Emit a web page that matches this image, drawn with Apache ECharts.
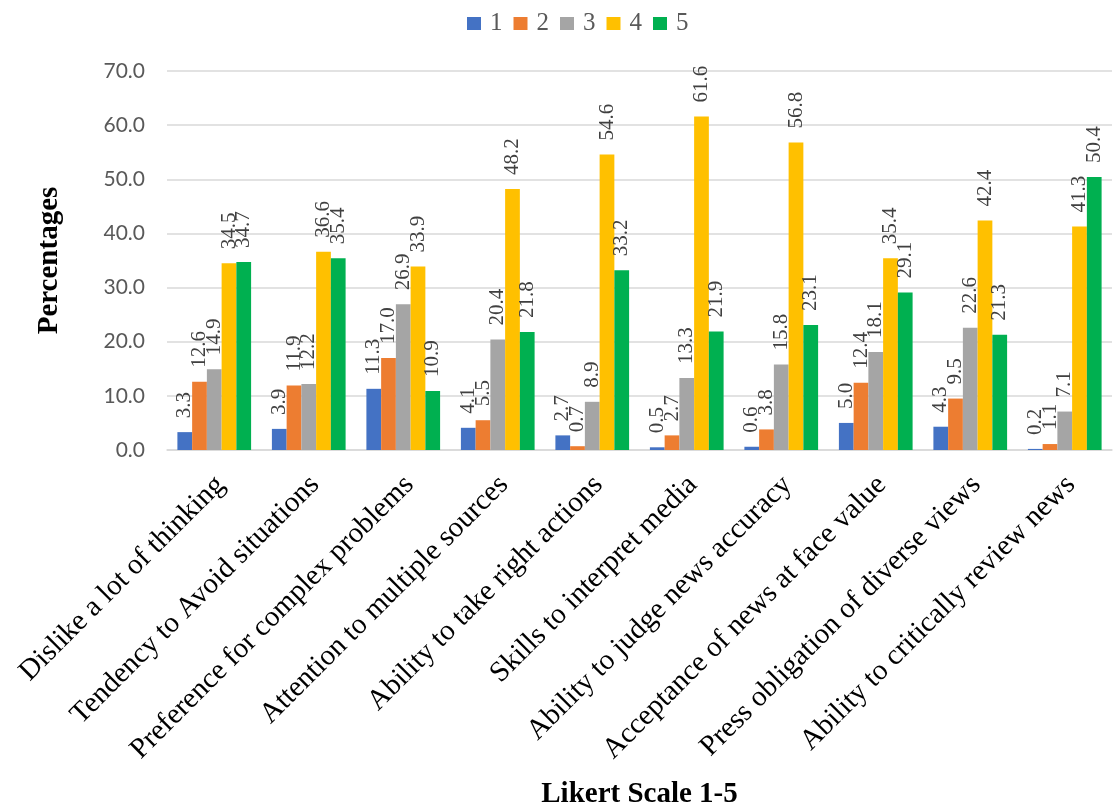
<!DOCTYPE html>
<html>
<head>
<meta charset="utf-8">
<script src="https://cdn.jsdelivr.net/npm/echarts@6/dist/echarts.min.js"></script>
<style>
html,body{margin:0;padding:0;background:#fff;}
#chart{width:1114px;height:810px;}
</style>
</head>
<body>
<div id="chart"></div>
<script>
var categories = [
  "Dislike a lot of thinking",
  "Tendency to Avoid situations",
  "Preference for complex problems",
  "Attention to multiple sources",
  "Ability to take right actions",
  "Skills to interpret media",
  "Ability to judge news accuracy",
  "Acceptance of news at face value",
  "Press obligation of diverse views",
  "Ability to critically review news"
];
var seriesNames = ["1", "2", "3", "4", "5"];
var s1 = [3.3, 3.9, 11.3, 4.1, 2.7, 0.5, 0.6, 5.0, 4.3, 0.2];
var s2 = [12.6, 11.9, 17.0, 5.5, 0.7, 2.7, 3.8, 12.4, 9.5, 1.1];
var s3 = [14.9, 12.2, 26.9, 20.4, 8.9, 13.3, 15.8, 18.1, 22.6, 7.1];
var s4 = [34.5, 36.6, 33.9, 48.2, 54.6, 61.6, 56.8, 35.4, 42.4, 41.3];
var s5 = [34.7, 35.4, 10.9, 21.8, 33.2, 21.9, 23.1, 29.1, 21.3, 50.4];
var colors = ["#4472C4", "#ED7D31", "#A5A5A5", "#FFC000", "#00B050"];
var values = [s1, s2, s3, s4, s5];

var serif = "Liberation Serif";

var chart = echarts.init(document.getElementById('chart'), null, {renderer: 'canvas'});
var series = seriesNames.map(function (n, i) {
  return {
    name: n,
    type: 'bar',
    data: values[i],
    barGap: '0%',
    barCategoryGap: '22%',
    itemStyle: {color: colors[i]},
    label: {
      show: true,
      position: 'top',
      rotate: 90,
      align: 'left',
      verticalAlign: 'middle',
      distance: 14,
      fontFamily: serif,
      fontSize: 21,
      color: '#404040',
      formatter: function (p) { return p.value.toFixed(1); }
    }
  };
});

chart.setOption({
  animation: false,
  color: colors,
  textStyle: {fontFamily: serif},
  legend: {
    top: 6,
    left: 462,
    itemWidth: 14,
    itemHeight: 13,
    itemGap: 11,
    icon: 'rect',
    textStyle: {fontFamily: serif, fontSize: 25, color: '#595959', padding: [0, 0, 0, 4]},
    data: seriesNames
  },
  grid: {left: 167, right: 2, top: 71, bottom: 360},
  xAxis: {
    type: 'category',
    data: categories,
    name: 'Likert Scale 1-5',
    nameLocation: 'middle',
    nameGap: 330,
    nameTextStyle: {fontFamily: serif, fontSize: 29, fontWeight: 'bold', color: '#000'},
    axisLine: {lineStyle: {color: '#D9D9D9', width: 1.5}},
    axisTick: {show: false},
    axisLabel: {
      interval: 0,
      rotate: 45,
      margin: 16,
      verticalAlign: 'top',
      padding: [0, 6, 0, 0],
      fontFamily: serif,
      fontSize: 29,
      color: '#000'
    }
  },
  yAxis: {
    type: 'value',
    min: 0,
    max: 70,
    interval: 10,
    name: 'Percentages',
    nameLocation: 'middle',
    nameRotate: 90,
    nameGap: 103,
    nameTextStyle: {fontFamily: serif, fontSize: 29, fontWeight: 'bold', color: '#000'},
    axisLine: {show: false},
    axisTick: {show: false},
    splitLine: {lineStyle: {color: '#D9D9D9', width: 1.5}},
    axisLabel: {
      margin: 22,
      fontFamily: "Lato",
      fontSize: 21,
      color: '#595959',
      formatter: function (v) { return v.toFixed(1); }
    }
  },
  series: series
});
</script>
</body>
</html>
